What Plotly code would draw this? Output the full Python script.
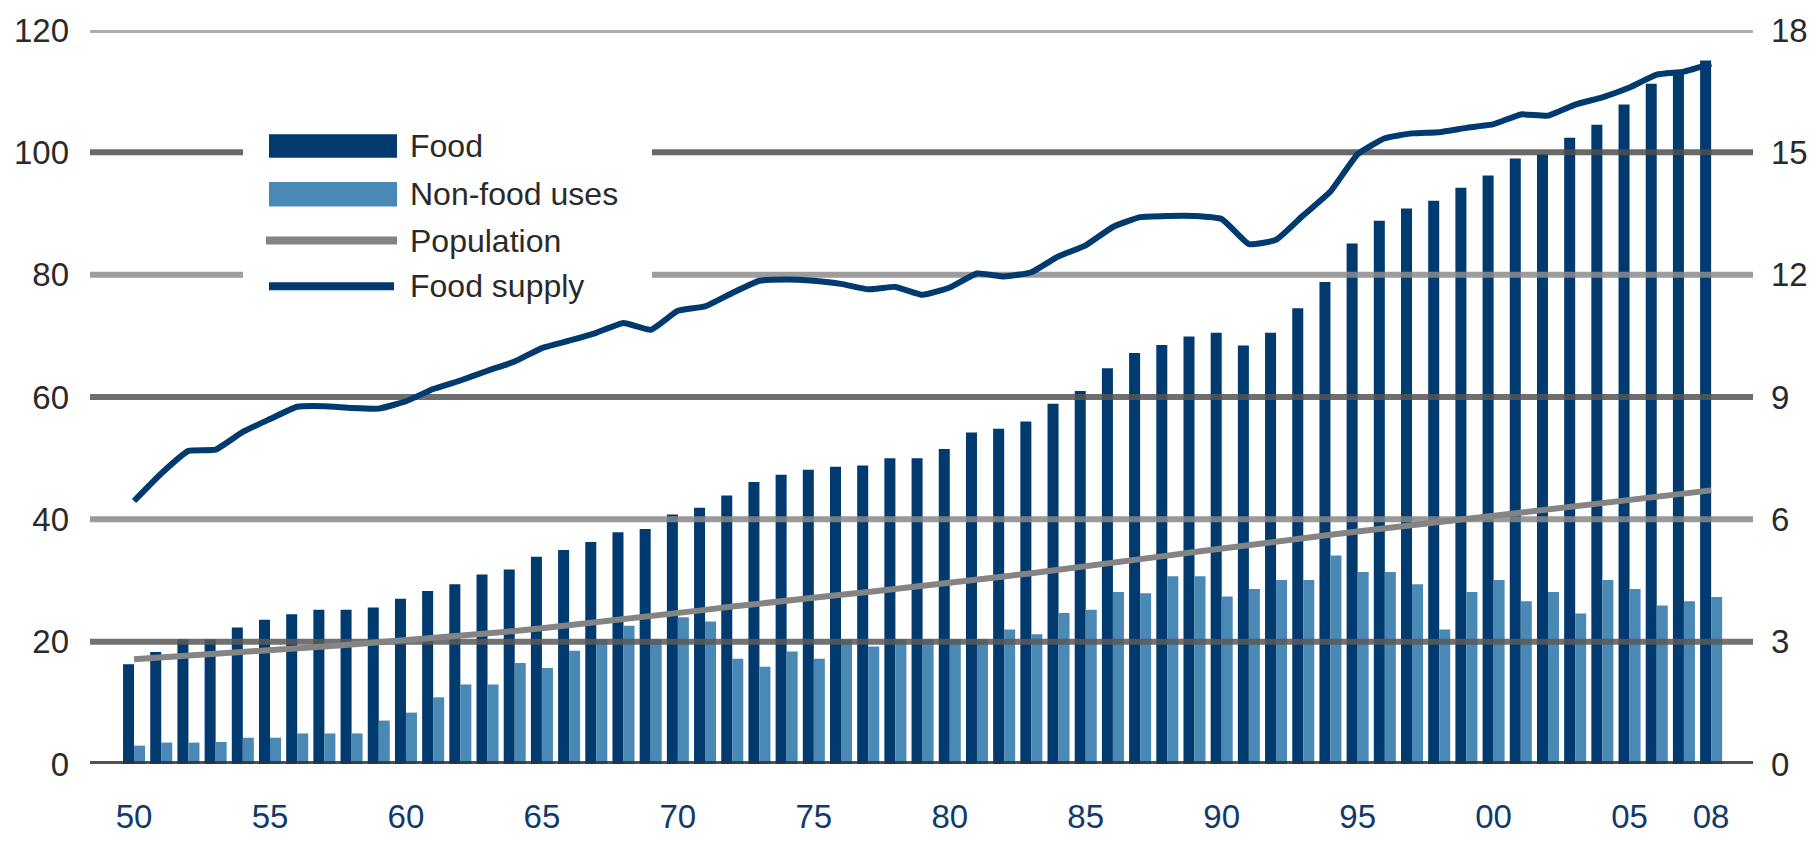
import plotly.graph_objects as go

# ---- data ----
years = list(range(1950, 2009))

food = [16.3, 18.3, 20.4, 20.4, 22.3, 23.6, 24.5, 25.2, 25.2, 25.6,
        27.0, 28.3, 29.4, 31.0, 31.8, 33.9, 35.0, 36.3, 37.9, 38.4,
        40.8, 41.9, 43.9, 46.1, 47.3, 48.1, 48.6, 48.8, 50.0, 50.0,
        51.5, 54.2, 54.8, 56.0, 58.9, 61.0, 64.7, 67.2, 68.5, 69.9,
        70.5, 68.4, 70.5, 74.5, 78.8, 85.1, 88.8, 90.8, 92.1, 94.2,
        96.2, 99.0, 99.7, 102.4, 104.5, 107.8, 111.2, 113.2, 115.0]

non_food = [3.0, 3.5, 3.5, 3.6, 4.3, 4.3, 5.0, 5.0, 5.0, 7.1,
            8.4, 10.9, 13.0, 13.0, 16.5, 15.7, 18.5, 20.4, 22.6, 20.4,
            24.0, 23.3, 17.2, 15.9, 18.4, 17.2, 20.4, 19.2, 20.4, 20.4,
            20.4, 20.4, 22.0, 21.2, 24.7, 25.2, 28.1, 27.9, 30.7, 30.7,
            27.4, 28.6, 30.1, 30.1, 34.1, 31.4, 31.4, 29.4, 22.0, 28.1,
            30.1, 26.6, 28.1, 24.6, 30.1, 28.6, 25.9, 26.6, 27.3]

# population, billions (right axis)
population = [2.57, 2.61, 2.65, 2.69, 2.73, 2.78, 2.83, 2.88, 2.93, 2.98,
              3.03, 3.08, 3.14, 3.20, 3.26, 3.33, 3.40, 3.47, 3.54, 3.62,
              3.70, 3.78, 3.86, 3.94, 4.01, 4.08, 4.15, 4.22, 4.29, 4.37,
              4.44, 4.52, 4.60, 4.68, 4.76, 4.84, 4.93, 5.02, 5.11, 5.20,
              5.29, 5.38, 5.46, 5.54, 5.62, 5.70, 5.78, 5.86, 5.94, 6.01,
              6.09, 6.17, 6.25, 6.32, 6.40, 6.48, 6.55, 6.63, 6.71]

food_supply = [43.0, 47.5, 51.2, 51.4, 54.3, 56.4, 58.4, 58.5, 58.2, 58.1,
               59.3, 61.3, 62.7, 64.3, 65.8, 68.0, 69.2, 70.5, 72.1, 71.0,
               74.1, 74.8, 77.0, 79.0, 79.2, 79.0, 78.5, 77.6, 78.0, 76.7,
               77.9, 80.2, 79.7, 80.4, 83.0, 84.8, 87.8, 89.4, 89.6, 89.6,
               89.1, 85.0, 85.7, 89.7, 93.6, 99.7, 102.3, 103.1, 103.3, 104.0,
               104.6, 106.2, 106.0, 107.8, 109.0, 110.6, 112.7, 113.2, 114.5]

x_tickvals = [1950, 1955, 1960, 1965, 1970, 1975, 1980, 1985, 1990, 1995, 2000, 2005, 2008]
x_ticktext = ["50", "55", "60", "65", "70", "75", "80", "85", "90", "95", "00", "05", "08"]
left_ticks = [0, 20, 40, 60, 80, 100, 120]
right_ticks = [0, 3, 6, 9, 12, 15, 18]
grid_colors = ["#333333", "#5a5a5a", "#888888", "#555555", "#8c8c8c", "#4f4f4f", "#a0a0a0"]

legend_labels = ["Food", "Non-food uses", "Population", "Food supply"]

NAVY = "#003a6e"
LIGHT = "#4a89b5"
GREY = "#848484"
FONT = "Liberation Sans, Arial, sans-serif"

W, H = 1820, 847
L, R, T, B = 90, 67, 24, 70
X_RANGE = [1948.38, 2009.54]


def px_x(px):
    return (px - L) / (W - L - R)


def px_y(py):
    return (H - B - py) / (H - T - B)


fig = go.Figure()

fig.add_trace(go.Bar(x=years, y=food, name="Food", marker=dict(color=NAVY, line_width=0)))
fig.add_trace(go.Bar(x=years, y=non_food, name="Non-food uses", marker=dict(color=LIGHT, line_width=0)))

# horizontal grid drawn over the bars but under the lines
for v, c in zip(left_ticks, grid_colors):
    fig.add_trace(go.Scatter(
        x=X_RANGE, y=[v, v], mode="lines", line=dict(color=c, width=6),
        opacity=0.85, hoverinfo="skip", showlegend=False, cliponaxis=False,
    ))

fig.add_trace(go.Scatter(x=years, y=population, name="Population", yaxis="y2",
                         mode="lines", line=dict(color=GREY, width=6)))
fig.add_trace(go.Scatter(x=years, y=food_supply, name="Food supply",
                         mode="lines", line=dict(color=NAVY, width=6, shape="spline", smoothing=0.4)))

# hand-drawn legend (wide swatches like the original)
shapes = [
    dict(type="rect", xref="paper", yref="paper", layer="above",
         x0=px_x(243), x1=px_x(652), y0=px_y(305), y1=px_y(112),
         fillcolor="white", line_width=0),
    dict(type="rect", xref="paper", yref="paper", layer="above",
         x0=px_x(269), x1=px_x(397), y0=px_y(155), y1=px_y(131),
         fillcolor=NAVY, line_width=0),
    dict(type="rect", xref="paper", yref="paper", layer="above",
         x0=px_x(269), x1=px_x(397), y0=px_y(205), y1=px_y(180),
         fillcolor=LIGHT, line_width=0),
    dict(type="line", xref="paper", yref="paper", layer="above",
         x0=px_x(266), x1=px_x(397), y0=px_y(240), y1=px_y(240),
         line=dict(color=GREY, width=8)),
    dict(type="line", xref="paper", yref="paper", layer="above",
         x0=px_x(269), x1=px_x(394), y0=px_y(287), y1=px_y(287),
         line=dict(color=NAVY, width=8)),
]
annotations = [
    dict(text=lab, xref="paper", yref="paper", x=px_x(408), y=px_y(py),
         xanchor="left", yanchor="middle", showarrow=False,
         font=dict(family=FONT, size=32, color="#2a2a2a"))
    for lab, py in zip(legend_labels, [143, 192, 240, 287])
]

fig.update_layout(
    width=W, height=H,
    margin=dict(l=L, r=R, t=T, b=B),
    paper_bgcolor="white", plot_bgcolor="white",
    barmode="group", bargap=0.19, bargroupgap=0.0,
    showlegend=False,
    shapes=shapes, annotations=annotations,
    font=dict(family=FONT, size=33, color="#2a2a2a"),
    xaxis=dict(range=X_RANGE, tickvals=x_tickvals, ticktext=x_ticktext,
               showgrid=False, zeroline=False, showline=False, ticks="",
               ticklabelstandoff=30, tickfont=dict(color="#12396b", size=33)),
    yaxis=dict(range=[0, 120], tickvals=left_ticks, showgrid=False, zeroline=False,
               showline=False, ticks="", ticklabelstandoff=20),
    yaxis2=dict(range=[0, 18], tickvals=right_ticks, overlaying="y", side="right",
                showgrid=False, zeroline=False, showline=False, ticks="",
                ticklabelstandoff=17),
)

fig.write_html("out.html", config={"displayModeBar": False},
               post_script="document.body.style.margin='0';")
